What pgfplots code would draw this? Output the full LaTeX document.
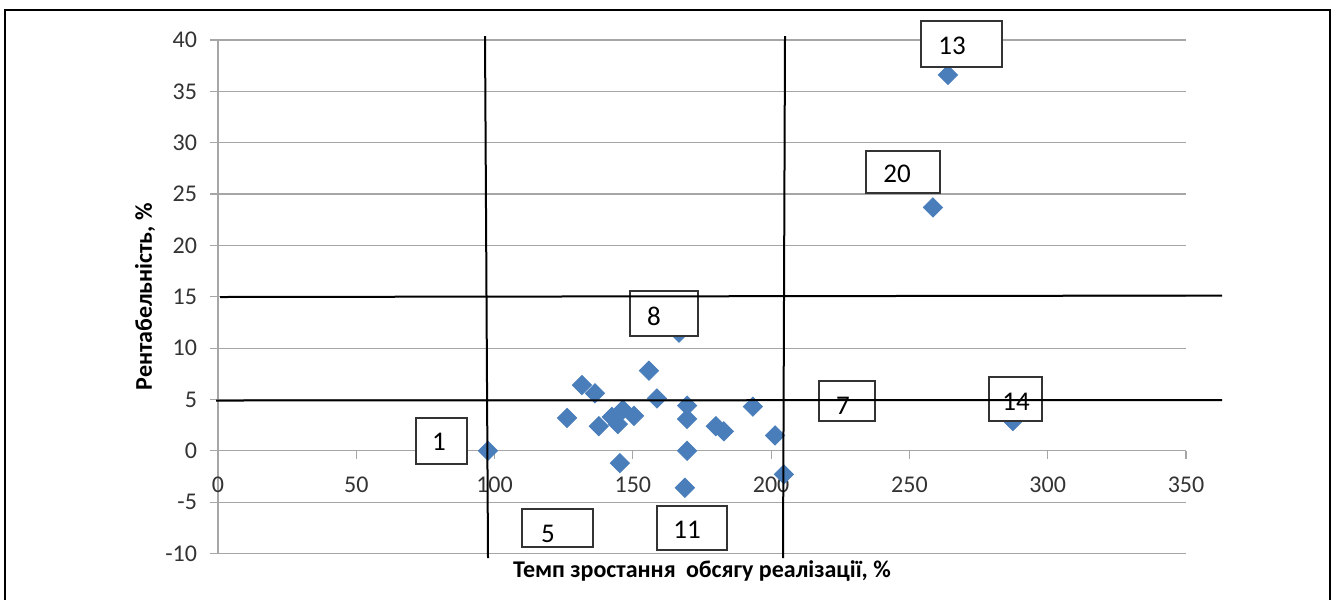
\documentclass[border=0pt]{standalone}
\usepackage{pgfplots}
\pgfplotsset{compat=1.18}
\usepackage{fontspec}
\setmainfont{Carlito}
\definecolor{ptblue}{HTML}{4A7EBB}
\definecolor{gridgray}{HTML}{A6A6A6}
\pgfplotstableread{
x y
97.6 0.0
126.2 3.2
131.6 6.4
136.3 5.6
137.7 2.4
142.4 3.3
144.6 2.6
146.4 4.0
150.4 3.4
145.3 -1.2
155.8 7.8
158.7 5.1
166.7 11.5
169.6 4.4
169.6 3.1
169.6 0.0
168.8 -3.6
180.0 2.4
182.9 1.9
193.4 4.3
201.4 1.5
204.6 -2.3
263.9 36.6
258.5 23.7
287.4 2.9
}\pts
\begin{document}
\begin{tikzpicture}
\begin{scope}[x=0.5pt,y=-0.5pt]
\useasboundingbox (0,0) rectangle (1336,590);
\end{scope}
\begin{axis}[
  at={(109pt,-276.75pt)}, anchor=south west,
  scale only axis, width=484pt, height=256.75pt,
  xmin=0,xmax=350,ymin=-10,ymax=40,
  axis x line*=middle, axis y line*=left,
  hide obscured x ticks=false, hide obscured y ticks=false,
  xtick={0,50,...,350}, ytick={-10,-5,...,40},
  ymajorgrids, grid style={gridgray, line width=0.6pt},
  axis line style={gridgray, line width=0.6pt},
  tick style={gridgray, line width=0.6pt},
  tick align=outside, major tick length=4pt,
  /pgf/number format/assume math mode=true,
  ticklabel style={font=\fontsize{12}{14}\selectfont, text=black!80},
  xticklabel style={anchor=north, yshift=-5.5pt},
  yticklabel style={anchor=east, xshift=-3pt},
  xlabel={Темп зростання\hspace{0.2em} обсягу реалізації, \%},
  ylabel={Рентабельність, \%},
  xlabel style={at={(axis description cs:0.5,0)}, anchor=base, yshift=-11.8pt, font=\bfseries\fontsize{12}{14}\selectfont},
  ylabel style={at={(axis description cs:-0.0754,0.5)}, anchor=center, rotate=0, font=\bfseries\fontsize{12}{14}\selectfont},
  clip=false,
]
\addplot[only marks, mark=square*, mark size=3.4pt, mark options={rotate=45, fill=ptblue, draw=ptblue}] table {\pts};
\end{axis}
\begin{scope}[x=0.5pt,y=-0.5pt]
\tikzset{lbl/.style={draw=black!80, line width=0.6pt, fill=white}}
\foreach \a/\b/\c/\d/\t/\tx/\ty in {
 630/291/698/336/8/654/316,
 921/21/1002/67/13/952/46,
 866/151/940/193/20/897/174,
 819/381/875/421/7/843/406,
 989/377/1042/421/14/1016/402,
 416/418/467/464/1/439/442,
 522/509/593/547/5/548/534,
 657/506/727/550/11/687/530}{
  \draw[lbl] (\a,\b) rectangle (\c,\d);
  \node[font=\fontsize{13.5}{15}\selectfont, inner sep=0pt] at (\tx,\ty) {\t};
}
\draw[line width=1pt] (220,297) -- (1222,295.5);
\draw[line width=1pt] (216,400.5) -- (1222,400);
\draw[line width=1pt] (485,36) -- (488,558);
\draw[line width=1pt] (785,36) -- (783,558);
\draw[line width=1.3pt] (5,600) -- (5,10) -- (1330,10) -- (1330,600);
\end{scope}
\end{tikzpicture}
\end{document}
